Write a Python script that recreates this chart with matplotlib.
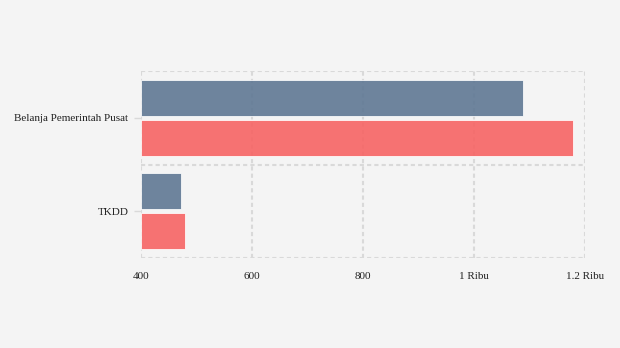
import numpy as np
import matplotlib
matplotlib.use("Agg")
from matplotlib import pyplot as plt

# data
categories = ["Belanja Pemerintah Pusat", "TKDD"]
series_a = [1089, 472]   # biru
series_b = [1179, 479]   # merah
x_ticks = [400, 600, 800, 1000, 1200]
x_labels = ["400", "600", "800", "1 Ribu", "1.2 Ribu"]

bg = "#f4f4f4"
plt.rcParams["font.family"] = ["Liberation Serif", "DejaVu Serif"]

fig = plt.figure(figsize=(6.2, 3.48), dpi=100, facecolor=bg)
ax = fig.add_axes([141 / 620, 1 - 258 / 348, 444 / 620, 187 / 348])
ax.set_facecolor(bg)

y = np.arange(len(categories))
h = 0.38
ax.barh(y - 0.214, np.array(series_a) - 400, left=400, height=h,
        color="#5f7894", alpha=0.9, edgecolor="white", linewidth=0.6, zorder=3)
ax.barh(y + 0.214, np.array(series_b) - 400, left=400, height=h,
        color="#f76464", alpha=0.9, edgecolor="white", linewidth=0.6, zorder=3)

ax.set_xlim(400, 1200)
ax.set_ylim(1.5, -0.5)
ax.set_xticks(x_ticks)
ax.set_xticklabels(x_labels)
ax.set_yticks(y)
ax.set_yticklabels(categories)
ax.set_yticks([-0.5, 0.5, 1.5], minor=True)

for s in ax.spines.values():
    s.set_visible(False)

# garis grid putus-putus
ax.grid(axis="x", which="major", color="#d9d9d9", linestyle=(0, (2, 1.5)), linewidth=1.5, zorder=0)
ax.grid(axis="y", which="minor", color="#d9d9d9", linestyle=(0, (2, 1.5)), linewidth=1.5, zorder=0)
ax.grid(axis="y", which="major", visible=False)

ax.tick_params(axis="x", length=0, pad=10, labelsize=8, colors="#222222")
ax.tick_params(axis="y", which="major", length=5, width=1, color="#d9d9d9",
               pad=4, labelsize=8, labelcolor="#222222")
ax.tick_params(axis="y", which="minor", length=0)

fig.savefig("out.png", dpi=100, facecolor=bg)
